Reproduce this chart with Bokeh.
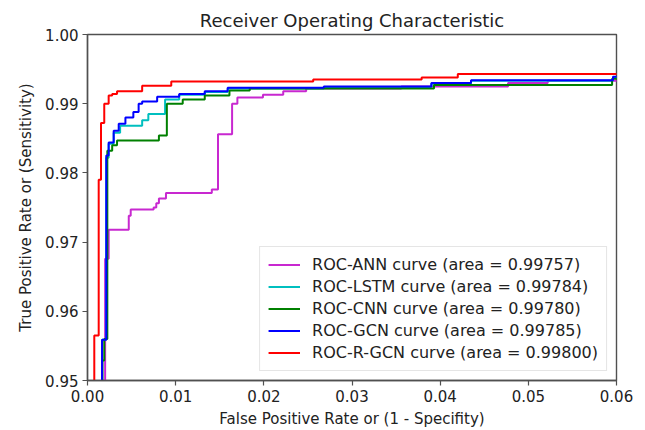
from bokeh.plotting import figure
from bokeh.models import Range1d, FixedTicker, NumeralTickFormatter
from bokeh.embed import file_html
from bokeh.resources import INLINE

# ---- data ----
ann_fpr = [0.0, 0.0020, 0.0024, 0.00468, 0.0049, 0.0075, 0.0078, 0.0081, 0.0089, 0.0141,
           0.0148, 0.0164, 0.0170, 0.0199, 0.0222, 0.0248, 0.0356, 0.0477, 0.0522, 1.0]
ann_tpr = [0.0, 0.9676, 0.9718, 0.9738, 0.9747, 0.9750, 0.9756, 0.9763, 0.9771, 0.9776,
           0.9856, 0.9900, 0.9909, 0.9913, 0.9918, 0.9922, 0.9925, 0.9930, 0.9933, 1.0]

lstm_fpr = [0.0, 0.00165, 0.00213, 0.0024, 0.00297, 0.0037, 0.0062, 0.0069, 0.0088, 0.0104,
            0.0133, 0.0159, 0.0268, 0.0390, 0.0435, 0.0596, 1.0]
lstm_tpr = [0.0, 0.9559, 0.9822, 0.9842, 0.9858, 0.9868, 0.9876, 0.9885, 0.9906, 0.9913,
            0.9917, 0.9922, 0.9924, 0.9929, 0.9933, 0.9938, 1.0]

cnn_fpr = [0.0, 0.0017, 0.0019, 0.00225, 0.0028, 0.00335, 0.0081, 0.0090, 0.0108, 0.0133,
           0.0161, 0.0184, 0.0393, 0.0595, 1.0]
cnn_tpr = [0.0, 0.9529, 0.9560, 0.9832, 0.9840, 0.9847, 0.9854, 0.9900, 0.9906, 0.9912,
           0.9919, 0.9922, 0.9927, 0.9936, 1.0]

gcn_fpr = [0.0, 0.00165, 0.00213, 0.0024, 0.00297, 0.00354, 0.0043, 0.0052, 0.0058, 0.0062,
           0.0079, 0.0104, 0.0133, 0.0159, 0.0268, 0.0390, 0.0435, 0.0596, 1.0]
gcn_tpr = [0.0, 0.9559, 0.9825, 0.9844, 0.9861, 0.9871, 0.9880, 0.9888, 0.9900, 0.9903,
           0.9910, 0.9914, 0.9918, 0.9923, 0.9925, 0.9930, 0.9934, 0.9939, 1.0]

rgcn_fpr = [0.0, 0.00077, 0.00127, 0.00153, 0.0019, 0.0024, 0.0028, 0.00335, 0.0062, 0.0095,
            0.0256, 0.0379, 0.0420, 1.0]
rgcn_tpr = [0.0, 0.9565, 0.9790, 0.9872, 0.9900, 0.9912, 0.9914, 0.9918, 0.9926, 0.9932,
            0.9935, 0.9938, 0.9943, 1.0]

labels = ["ROC-ANN curve (area = 0.99757)",
          "ROC-LSTM curve (area = 0.99784)",
          "ROC-CNN curve (area = 0.99780)",
          "ROC-GCN curve (area = 0.99785)",
          "ROC-R-GCN curve (area = 0.99800)"]
colors = ["#c828d0", "#00bfbf", "#008000", "#0000ff", "#ff0000"]

x_ticks = [0.00, 0.01, 0.02, 0.03, 0.04, 0.05, 0.06]
y_ticks = [0.95, 0.96, 0.97, 0.98, 0.99, 1.00]

FONT = "DejaVu Sans"

p = figure(width=645, height=430, output_backend="svg", toolbar_location=None,
           x_range=Range1d(0.0, 0.06), y_range=Range1d(0.95, 1.0),
           min_border_left=87, min_border_right=29, min_border_top=34, min_border_bottom=50,
           title="Receiver Operating Characteristic")

p.title.align = "center"
p.title.vertical_align = "middle"
p.title.text_font = FONT
p.title.text_font_size = "18px"
p.title.text_font_style = "normal"
p.title.text_color = "#222222"
p.title.standoff = 6

p.grid.visible = False
p.outline_line_color = "#505050"
p.outline_line_width = 1.4
p.outline_line_alpha = 1.0

for fx, ty, lab, col in [(ann_fpr, ann_tpr, labels[0], colors[0]),
                         (lstm_fpr, lstm_tpr, labels[1], colors[1]),
                         (cnn_fpr, cnn_tpr, labels[2], colors[2]),
                         (gcn_fpr, gcn_tpr, labels[3], colors[3]),
                         (rgcn_fpr, rgcn_tpr, labels[4], colors[4])]:
    p.step(fx, ty, mode="after", line_color=col, line_width=2, legend_label=lab)

p.xaxis.ticker = FixedTicker(ticks=x_ticks)
p.yaxis.ticker = FixedTicker(ticks=y_ticks)
p.xaxis.formatter = NumeralTickFormatter(format="0.00")
p.yaxis.formatter = NumeralTickFormatter(format="0.00")
p.xaxis.axis_label = "False Positive Rate or (1 - Specifity)"
p.yaxis.axis_label = "True Positive Rate or (Sensitivity)"

for ax in (p.xaxis[0], p.yaxis[0]):
    ax.axis_line_color = "#505050"
    ax.axis_line_width = 1.4
    ax.major_tick_line_color = "#505050"
    ax.major_tick_line_width = 1.2
    ax.major_tick_out = 5
    ax.major_tick_in = 0
    ax.minor_tick_line_color = None
    ax.major_label_text_font = FONT
    ax.major_label_text_font_size = "15px"
    ax.major_label_text_color = "#222222"
    ax.axis_label_text_font = FONT
    ax.axis_label_text_font_size = "15px"
    ax.axis_label_text_font_style = "normal"
    ax.axis_label_text_color = "#222222"

p.xaxis.major_label_standoff = 4
p.xaxis.axis_label_standoff = 5
p.yaxis.major_label_standoff = 4
p.yaxis.axis_label_standoff = 7

lg = p.legend[0]
lg.location = "bottom_right"
lg.margin = 9
lg.padding = 8
lg.spacing = 3
lg.label_height = 17
lg.glyph_height = 17
lg.glyph_width = 32
lg.label_standoff = 12
lg.label_text_font = FONT
lg.label_text_font_size = "16px"
lg.label_text_color = "#222222"
lg.border_line_color = "#cccccc"
lg.border_line_width = 1
lg.background_fill_alpha = 0.85

open("out.html", "w").write(file_html(p, INLINE))
